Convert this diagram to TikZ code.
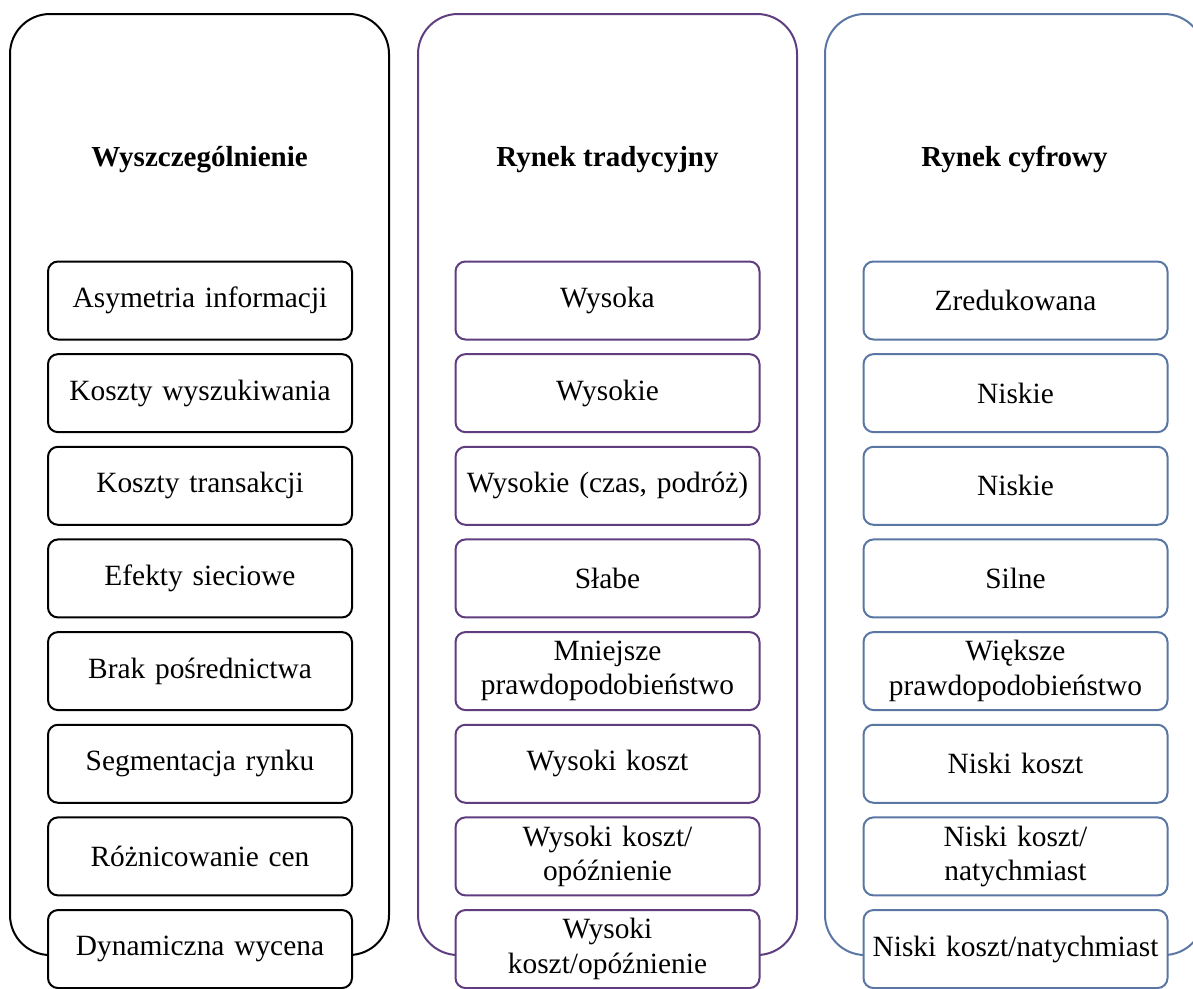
\documentclass[tikz,border=0pt]{standalone}
\usepackage{fontspec}
\setmainfont{Liberation Serif}
\definecolor{tradcol}{HTML}{5F3D7E}
\definecolor{cyfrcol}{HTML}{5A77A3}
\begin{document}
\begin{tikzpicture}[x=1pt,y=-1pt,line width=2pt,
  column/.style={draw,rounded corners=40pt,minimum width=379pt,minimum height=941pt,inner sep=0pt},
  cell/.style={draw,fill=white,rounded corners=10pt,minimum width=304pt,minimum height=78pt,
    inner sep=0pt,align=center,text width=300pt,font=\fontsize{29.4}{34.5}\selectfont},
  head/.style={anchor=base,inner sep=0pt,font=\fontsize{29}{34}\selectfont\bfseries}]
\useasboundingbox (0,0) rectangle (1193,988);

% column frames
\node[column] (fA) at (199.5,484.5) {};
\node[column,draw=tradcol] (fB) at (607.5,484.5) {};
\node[column,draw=cyfrcol] (fC) at (1014.5,484.5) {};

% column headings
\node[head] (hA) at (199.5,166) {Wyszczególnienie};
\node[head] (hB) at (607.5,166) {Rynek tradycyjny};
\node[head] (hC) at (1014.5,166) {Rynek cyfrowy};

% first column: criteria
\node[cell] (a1) at (200,300.5) {Asymetria informacji};
\node[cell] (a2) at (200,393.15) {Koszty wyszukiwania};
\node[cell] (a3) at (200,485.8) {Koszty transakcji};
\node[cell] (a4) at (200,578.45) {Efekty sieciowe};
\node[cell] (a5) at (200,671.1) {Brak pośrednictwa};
\node[cell] (a6) at (200,763.75) {Segmentacja rynku};
\node[cell] (a7) at (200,856.4) {Różnicowanie cen};
\node[cell] (a8) at (200,949.05) {Dynamiczna wycena};

% second column: traditional market
\begin{scope}[every node/.append style={draw=tradcol}]
\node[cell] (b1) at (607.5,300.5) {Wysoka};
\node[cell] (b2) at (607.5,393.15) {Wysokie};
\node[cell] (b3) at (607.5,485.8) {Wysokie (czas, podróż)};
\node[cell] (b4) at (607.5,578.45) {Słabe};
\node[cell] (b5) at (607.5,671.1) {Mniejsze\\prawdopodobieństwo};
\node[cell] (b6) at (607.5,763.75) {Wysoki koszt};
\node[cell] (b7) at (607.5,856.4) {Wysoki koszt/\\opóźnienie};
\node[cell] (b8) at (607.5,949.05) {Wysoki\\koszt/opóźnienie};
\end{scope}

% third column: digital market
\begin{scope}[every node/.append style={draw=cyfrcol}]
\node[cell] (c1) at (1015.5,300.5) {Zredukowana};
\node[cell] (c2) at (1015.5,393.15) {Niskie};
\node[cell] (c3) at (1015.5,485.8) {Niskie};
\node[cell] (c4) at (1015.5,578.45) {Silne};
\node[cell] (c5) at (1015.5,671.1) {Większe\\prawdopodobieństwo};
\node[cell] (c6) at (1015.5,763.75) {Niski koszt};
\node[cell] (c7) at (1015.5,856.4) {Niski koszt/\\natychmiast};
\node[cell] (c8) at (1015.5,949.05) {Niski koszt/natychmiast};
\end{scope}
\end{tikzpicture}
\end{document}
